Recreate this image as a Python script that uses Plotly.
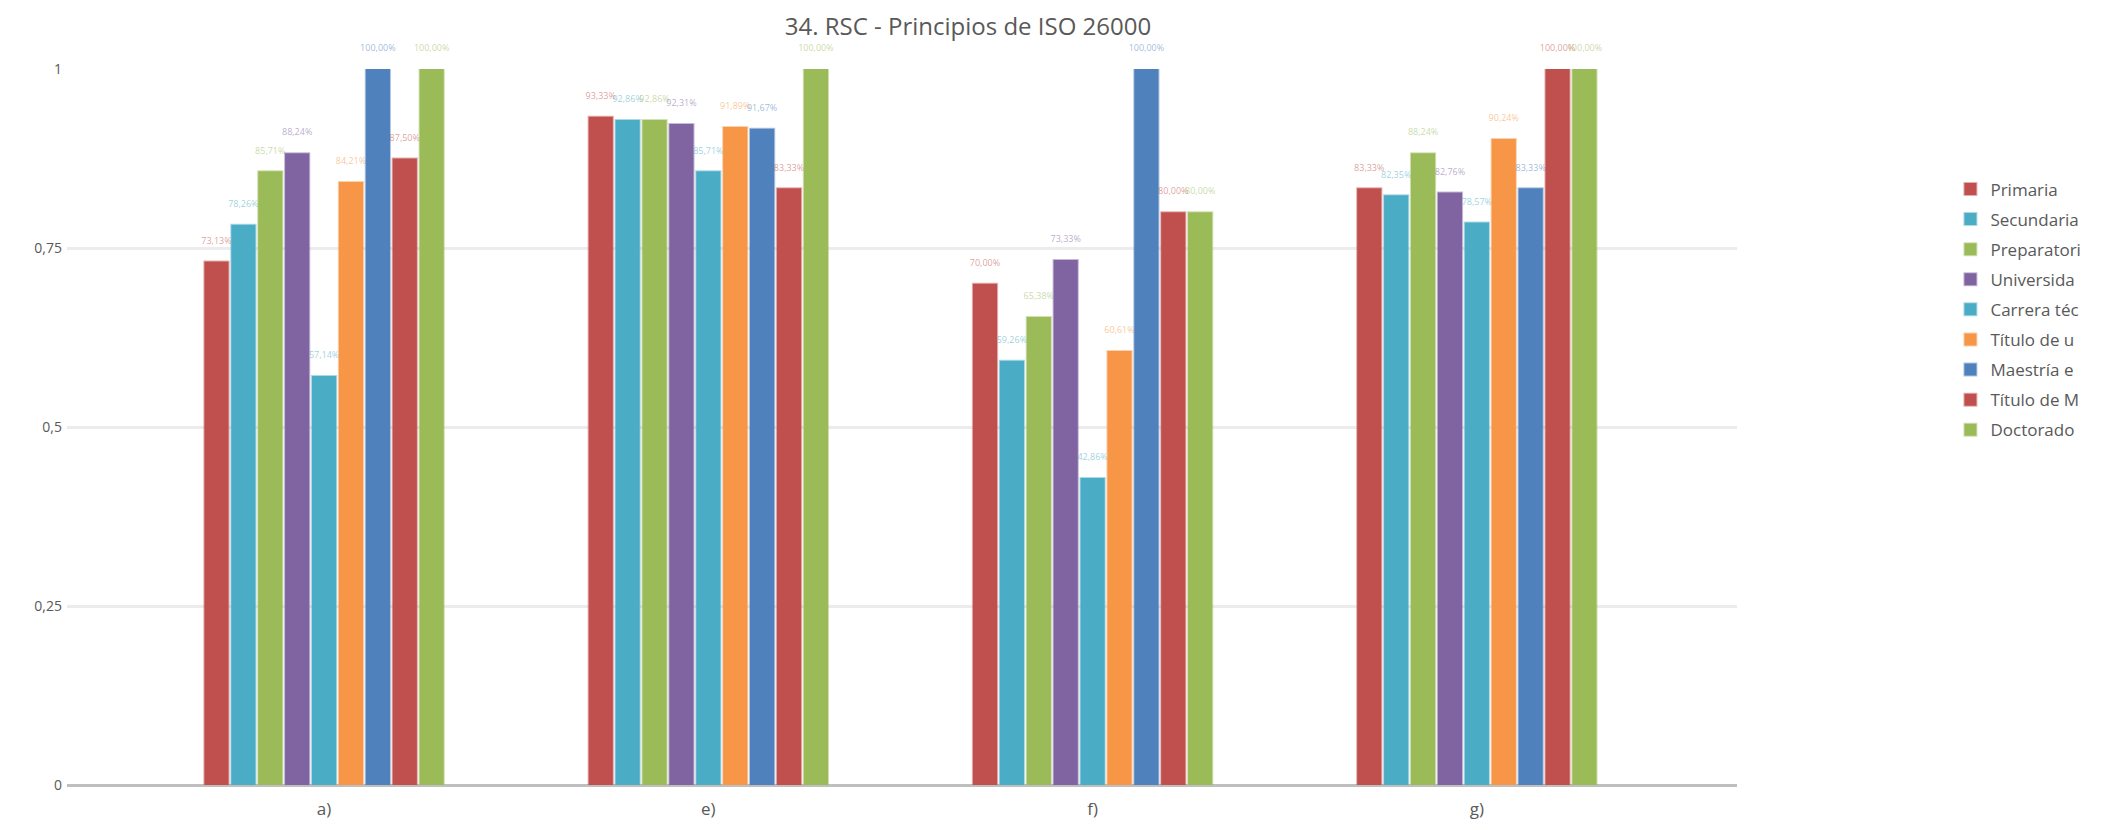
import plotly.graph_objects as go

categories = ["a)", "e)", "f)", "g)"]

# Legend names as visible in the reference (cut at the picture's right edge)
series_names = [
    "Primaria",
    "Secundaria",
    "Preparatori",
    "Universida",
    "Carrera téc",
    "Título de u",
    "Maestría e",
    "Título de M",
    "Doctorado",
]

primaria = [0.7313, 0.9333, 0.7000, 0.8333]
secundaria = [0.7826, 0.9286, 0.5926, 0.8235]
preparatoria = [0.8571, 0.9286, 0.6538, 0.8824]
universidad = [0.8824, 0.9231, 0.7333, 0.8276]
carrera_tecnica = [0.5714, 0.8571, 0.4286, 0.7857]
titulo_universidad = [0.8421, 0.9189, 0.6061, 0.9024]
maestria = [1.0, 0.9167, 1.0, 0.8333]
titulo_maestria = [0.8750, 0.8333, 0.8000, 1.0]
doctorado = [1.0, 1.0, 0.8000, 1.0]

series_values = [primaria, secundaria, preparatoria, universidad, carrera_tecnica,
                 titulo_universidad, maestria, titulo_maestria, doctorado]

colors = ["#C0504D", "#4BACC6", "#9BBB59", "#8064A2", "#4BACC6",
          "#F79646", "#4F81BD", "#C0504D", "#9BBB59"]

y_tickvals = [0, 0.25, 0.5, 0.75, 1]


def tint(hexc, a):
    r, g, b = int(hexc[1:3], 16), int(hexc[3:5], 16), int(hexc[5:7], 16)
    return f"rgba({r},{g},{b},{a})"


def pct(v):
    return f"{v*100:.2f}".replace(".", ",") + "%"


fig = go.Figure()
for i, (name, vals, col) in enumerate(zip(series_names, series_values, colors)):
    fig.add_trace(go.Bar(
        name=name,
        legendgroup=f"g{i}",
        x=categories,
        y=vals,
        marker=dict(color=col, line=dict(color=tint(col, 0.45), width=2)),
        text=[pct(v) + "<br> " for v in vals],
        textposition="outside",
        textfont=dict(size=9, color=tint(col, 0.55), family="Open Sans"),
        constraintext="none",
        cliponaxis=False,
    ))

fig.update_layout(
    width=2095,
    height=822,
    paper_bgcolor="white",
    plot_bgcolor="white",
    separators=",.",
    barmode="group",
    bargap=0.37,
    bargroupgap=0.1,
    font=dict(family="Open Sans", color="#595959"),
    title=dict(text="34. RSC - Principios de ISO 26000", x=0.4582, xanchor="center",
               y=0.977, yanchor="middle",
               font=dict(size=24, color="#595959", family="Open Sans")),
    margin=dict(l=59, r=366, t=61, b=45, autoexpand=False),
    legend=dict(x=1.1278, xanchor="left", y=0.857, yanchor="top",
                font=dict(size=17, color="#595959"),
                tracegroupgap=5, itemwidth=30, traceorder="grouped",
                bgcolor="rgba(0,0,0,0)"),
    xaxis=dict(range=[-0.669, 3.677], showgrid=False, ticks="",
               tickfont=dict(size=17, color="#595959"), showline=False,
               ticklabelstandoff=12),
    yaxis=dict(range=[0, 1], tickvals=y_tickvals, showgrid=True,
               gridcolor="#ececec", gridwidth=3, zeroline=True,
               zerolinecolor="#bfbfbf", zerolinewidth=3,
               tickfont=dict(size=14, color="#595959"), ticklabelstandoff=4),
)

fig.write_html("out.html")
